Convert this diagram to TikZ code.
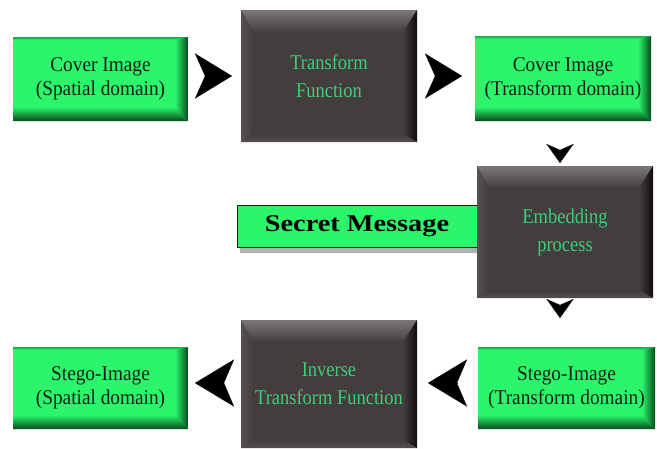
\documentclass[tikz,border=0pt]{standalone}
\usepackage{fontspec}
\setmainfont{Liberation Serif}
\newfontfamily\gfont[FakeStretch=0.92]{Liberation Serif}
\newfontfamily\dfont[FakeStretch=0.88]{Liberation Serif}
\newfontfamily\sfont[FakeStretch=1.18]{Liberation Serif}
\usetikzlibrary{arrows.meta,shadows}
\definecolor{gbase}{HTML}{2CF56C}
\definecolor{gdark}{HTML}{064A1A}
\definecolor{dbase}{HTML}{443D3D}
\definecolor{dlight}{HTML}{7C7676}
\definecolor{ddark}{HTML}{100C0C}
\definecolor{dtext}{HTML}{3CCF78}
\definecolor{gtext}{HTML}{152015}
\tikzset{
  greenbox/.style={rectangle, inner sep=0pt, outer sep=0pt, fill=gbase, text=gtext,
    align=center, font=\gfont\fontsize{21}{24}\selectfont,
    path picture={
      \coordinate (pNW) at (path picture bounding box.north west);
      \coordinate (pNE) at (path picture bounding box.north east);
      \coordinate (pSW) at (path picture bounding box.south west);
      \coordinate (pSE) at (path picture bounding box.south east);
      \shade[top color=gbase, middle color=gbase!80!gdark, bottom color=gdark]
        (pSW) -- (pSE) -- ([xshift=-13pt,yshift=14pt]pSE) -- ([yshift=14pt]pSW) -- cycle;
      \shade[left color=gbase, middle color=gbase!80!gdark, right color=gdark]
        (pNE) -- (pSE) -- ([xshift=-13pt,yshift=14pt]pSE) -- ([xshift=-13pt,yshift=-3pt]pNE) -- cycle;
      \shade[top color=gbase!55!gdark, bottom color=gbase]
        (pNW) -- (pNE) -- ([xshift=-13pt,yshift=-3pt]pNE) -- ([yshift=-3pt]pNW) -- cycle;
    }},
  darkbox/.style={rectangle, inner sep=0pt, outer sep=0pt, fill=dbase, text=dtext,
    align=center, font=\dfont\fontsize{21}{28}\selectfont,
    path picture={
      \coordinate (pNW) at (path picture bounding box.north west);
      \coordinate (pNE) at (path picture bounding box.north east);
      \coordinate (pSW) at (path picture bounding box.south west);
      \coordinate (pSE) at (path picture bounding box.south east);
      \shade[top color=dlight, bottom color=dbase]
        (pNW) -- (pNE) -- ([xshift=-14pt,yshift=-22pt]pNE) -- ([xshift=12pt,yshift=-22pt]pNW) -- cycle;
      \shade[left color=dbase!65!dlight, right color=dbase]
        (pNW) -- ([xshift=12pt,yshift=-22pt]pNW) -- ([xshift=12pt,yshift=8pt]pSW) -- (pSW) -- cycle;
      \shade[left color=dbase, middle color=dbase!75!ddark, right color=ddark]
        (pNE) -- (pSE) -- ([xshift=-14pt,yshift=8pt]pSE) -- ([xshift=-14pt,yshift=-22pt]pNE) -- cycle;
      \shade[top color=dbase, bottom color=dbase!70!dlight]
        (pSW) -- (pSE) -- ([xshift=-14pt,yshift=8pt]pSE) -- ([xshift=12pt,yshift=8pt]pSW) -- cycle;
    }},
  secbox/.style={rectangle, inner sep=0pt, outer sep=0pt, fill=gbase, draw=black!85!green,
    line width=0.9pt, text=black, font=\sfont\bfseries\fontsize{24}{28}\selectfont,
    drop shadow={shadow xshift=3pt, shadow yshift=-6pt, opacity=.3, fill=black}},
  bigchev/.style={-{Stealth[length=37pt,width=45pt,inset=10pt]}, line width=0.1pt, black},
  widechev/.style={-{Stealth[length=39pt,width=47pt,inset=10pt]}, line width=0.1pt, black},
  smallchev/.style={-{Stealth[length=19pt,width=27pt,inset=6pt]}, line width=0.1pt, black}
}
\begin{document}
\begin{tikzpicture}[x=1pt,y=-1pt]
\fill[white] (0,0) rectangle (657,448);
\useasboundingbox (0,0) rectangle (657,448);

\node[greenbox, minimum width=175pt, minimum height=84pt] (cov) at (100.5,79) {Cover Image\\(Spatial domain)};
\node[darkbox, minimum width=176pt, minimum height=132pt] (tf) at (329,76) {Transform\\Function};
\node[greenbox, minimum width=176pt, minimum height=85pt] (covT) at (563,78.5) {Cover Image\\(Transform domain)};

\node[secbox, minimum width=240pt, minimum height=42pt] (sec) at (357,226) {Secret Message};
\node[darkbox, minimum width=176pt, minimum height=132pt] (emb) at (565,232) {Embedding\\process};

\node[greenbox, minimum width=177pt, minimum height=82pt] (stT) at (566.5,388) {Stego-Image\\(Transform domain)};
\node[darkbox, minimum width=176pt, minimum height=128pt] (inv) at (329,384) {Inverse\\Transform Function};
\node[greenbox, minimum width=175pt, minimum height=82pt] (stS) at (100.5,388) {Stego-Image\\(Spatial domain)};

\draw[bigchev, shorten <=19pt, shorten >=9pt] (tf.west -| cov.east) -- (tf.west);
\draw[bigchev, shorten <=19pt, shorten >=13pt] (tf.east) -- (tf.east -| covT.west);
\draw[smallchev, shorten <=30pt, shorten >=3pt] ([xshift=-3pt]covT.south) -- ([xshift=-3pt]covT.south |- emb.north);
\draw[smallchev, shorten <=9pt, shorten >=29pt] ([xshift=-5pt]emb.south) -- ([xshift=-5pt]emb.south |- stT.north);
\draw[widechev, shorten <=21pt, shorten >=11pt] ([yshift=5pt]stT.west) -- ([yshift=5pt]stT.west -| inv.east);
\draw[widechev, shorten <=20pt, shorten >=7pt] ([yshift=5pt]stT.west -| inv.west) -- ([yshift=5pt]stT.west -| stS.east);
\end{tikzpicture}
\end{document}
